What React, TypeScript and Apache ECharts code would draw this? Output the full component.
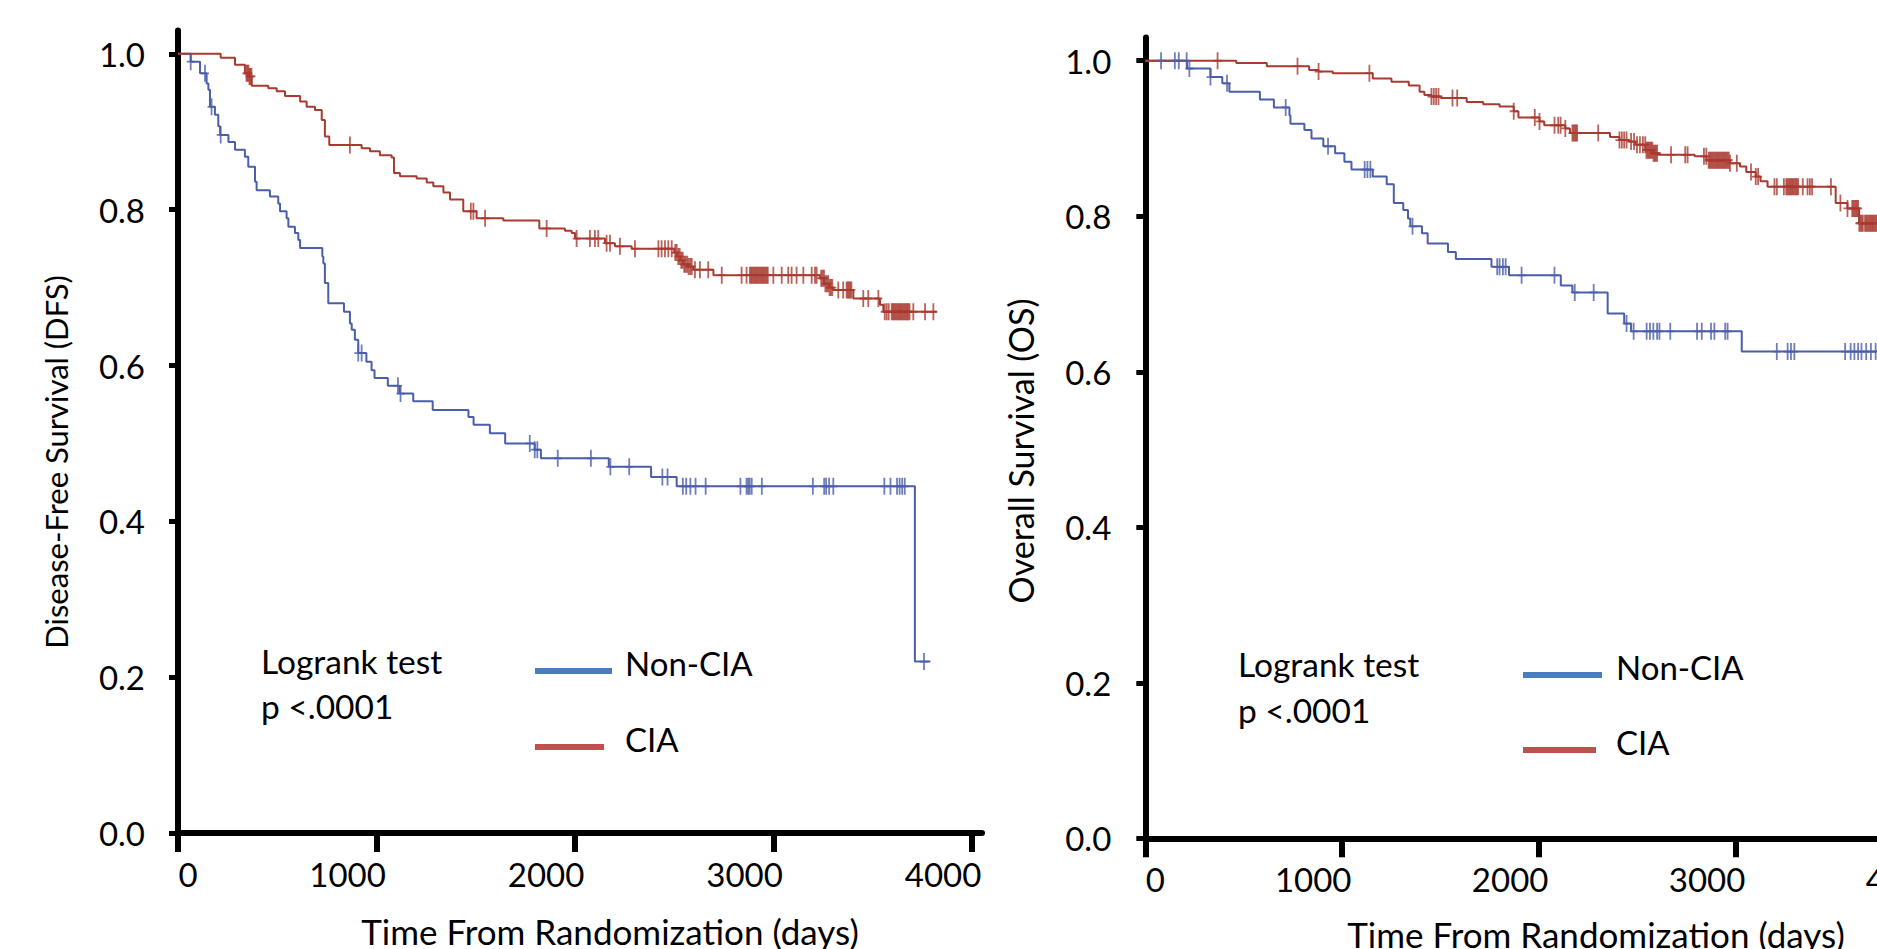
import React, { useEffect, useRef } from 'react';
import * as echarts from 'echarts';

// ---------- data ----------
const seriesNames = ['Non-CIA', 'CIA'];
const yTitles = ['Disease-Free Survival (DFS)', 'Overall Survival (OS)'];
const xTitle = 'Time From Randomization (days)';
const testLines = ['Logrank test', 'p <.0001'];
const xTickValues = [0, 1000, 2000, 3000, 4000];

// Disease-free survival, Non-CIA: [day, survival]
const dfsNonCIA: number[][] = [
  [0, 1], [64, 0.990], [111, 0.975], [144, 0.962], [153, 0.954], [161, 0.932], [186, 0.922],
  [203, 0.907], [212, 0.896], [254, 0.887], [287, 0.877], [337, 0.868], [354, 0.855],
  [388, 0.836], [396, 0.825], [463, 0.817], [505, 0.808], [514, 0.798], [547, 0.789],
  [556, 0.778], [589, 0.770], [606, 0.761], [615, 0.751], [727, 0.740], [732, 0.731],
  [740, 0.706], [757, 0.680], [836, 0.669], [866, 0.654], [875, 0.646], [891, 0.633],
  [908, 0.616], [949, 0.605], [975, 0.594], [990, 0.584], [1057, 0.574], [1116, 0.564],
  [1185, 0.554], [1283, 0.543], [1463, 0.534], [1489, 0.524], [1571, 0.513], [1648, 0.500],
  [1797, 0.492], [1828, 0.481], [2170, 0.470], [2383, 0.457], [2512, 0.445], [3712, 0.220],
  [3790, 0.220],
];
const dfsNonCIACensor: number[] = [
  64, 136, 169, 215, 908, 925, 1108, 1121, 1772, 1797, 1810, 1913, 2080, 2178, 2273, 2440,
  2466, 2543, 2560, 2581, 2607, 2658, 2833, 2864, 2872, 2880, 2890, 2941, 3198, 3255, 3265,
  3280, 3301, 3558, 3589, 3622, 3635, 3648, 3661, 3758,
];
// Disease-free survival, CIA
const dfsCIA: number[][] = [
  [0, 1], [215, 0.995], [287, 0.986], [337, 0.975], [358, 0.971], [371, 0.959], [455, 0.956],
  [497, 0.952], [539, 0.946], [615, 0.939], [648, 0.932], [690, 0.928], [724, 0.915],
  [740, 0.894], [762, 0.883], [925, 0.879], [967, 0.875], [1017, 0.870], [1076, 0.867],
  [1088, 0.847], [1118, 0.843], [1202, 0.840], [1253, 0.835], [1286, 0.830], [1337, 0.822],
  [1370, 0.813], [1437, 0.798], [1504, 0.789], [1639, 0.786], [1820, 0.776], [1949, 0.773],
  [1983, 0.770], [2000, 0.763], [2151, 0.757], [2201, 0.753], [2285, 0.750], [2500, 0.745],
  [2515, 0.740], [2530, 0.735], [2545, 0.730], [2570, 0.727], [2596, 0.723], [2697, 0.716],
  [3234, 0.712], [3255, 0.705], [3280, 0.700], [3300, 0.697], [3402, 0.686], [3536, 0.678],
  [3553, 0.669], [3822, 0.669],
];
const dfsCIACensor: number[] = [
  345, 350, 355, 360, 365, 370, 866, 1475, 1488, 1547, 1857, 2008, 2075, 2100, 2117, 2159,
  2176, 2226, 2302, 2420, 2436, 2453, 2470, 2487,
  2505, 2512, 2520, 2527, 2535, 2542, 2550, 2557, 2565, 2572, 2580, 2588,
  2604, 2629, 2671, 2739, 2839, 2864,
  2881, 2887, 2893, 2899, 2905, 2911, 2917, 2923, 2929, 2935, 2941, 2947, 2953, 2959, 2965, 2971,
  2999, 3041, 3074, 3091, 3116, 3150, 3192, 3209, 3217,
  3240, 3247, 3254, 3261, 3268, 3275, 3282, 3289, 3296,
  3326, 3351, 3368, 3374, 3380, 3386, 3392, 3452, 3477, 3528, 3560, 3570, 3580,
  3595, 3601, 3607, 3613, 3619, 3625, 3631, 3637, 3643, 3649, 3655, 3661, 3667, 3673, 3679, 3685,
  3704, 3763, 3805,
];

// Overall survival, Non-CIA
const osNonCIA: number[][] = [
  [0, 1], [212, 0.990], [331, 0.979], [391, 0.971], [427, 0.960], [582, 0.950], [653, 0.940],
  [732, 0.930], [737, 0.919], [808, 0.911], [844, 0.900], [904, 0.890], [964, 0.881],
  [1011, 0.870], [1047, 0.860], [1155, 0.851], [1226, 0.841], [1262, 0.817], [1310, 0.808],
  [1334, 0.797], [1346, 0.787], [1405, 0.778], [1434, 0.765], [1537, 0.754], [1577, 0.745],
  [1758, 0.735], [1847, 0.724], [2110, 0.711], [2169, 0.702], [2348, 0.675], [2432, 0.662],
  [2467, 0.652], [3029, 0.626], [3760, 0.626],
];
const osNonCIACensor: number[] = [
  80, 150, 170, 210, 224, 331, 415, 713, 928, 1114, 1128, 1143, 1357, 1787, 1799, 1816, 1830,
  1911, 2078, 2181, 2277, 2444, 2480, 2546, 2563, 2580, 2599, 2611, 2666, 2802, 2826, 2873,
  2890, 2945, 2957, 3207, 3262, 3279, 3296, 3554, 3582, 3601, 3620, 3637, 3661, 3685, 3709,
];
// Overall survival, CIA
const osCIA: number[][] = [
  [0, 1], [462, 0.997], [617, 0.993], [832, 0.988], [880, 0.986], [952, 0.984], [1155, 0.977],
  [1250, 0.973], [1338, 0.968], [1393, 0.960], [1417, 0.956], [1453, 0.954], [1501, 0.952],
  [1632, 0.947], [1716, 0.944], [1799, 0.941], [1871, 0.935], [1895, 0.927], [2002, 0.922],
  [2026, 0.917], [2133, 0.913], [2157, 0.907], [2360, 0.902], [2408, 0.898], [2456, 0.896],
  [2490, 0.892], [2540, 0.885], [2580, 0.881], [2600, 0.879], [2790, 0.877], [2850, 0.872],
  [2969, 0.868], [3020, 0.864], [3052, 0.857], [3100, 0.851], [3124, 0.845], [3160, 0.838],
  [3506, 0.817], [3566, 0.810], [3625, 0.791], [3760, 0.791],
];
const osCIACensor: number[] = [
  367, 773, 880, 1138, 1453, 1465, 1477, 1489, 1560, 1584, 1871, 1978, 2002, 2078, 2097, 2109,
  2133, 2169, 2175, 2181, 2187, 2193, 2300, 2408, 2420, 2432, 2444, 2467, 2482, 2497, 2512, 2527,
  2539, 2545, 2551, 2557, 2563, 2569, 2575, 2581, 2587, 2593, 2599, 2670, 2742, 2754,
  2837, 2849, 2861, 2867, 2873, 2879, 2885, 2891, 2897, 2903, 2909, 2915, 2921, 2927, 2933,
  2939, 2945, 2951, 2957, 2963, 2969, 3004, 3076, 3100, 3112, 3195, 3207,
  3243, 3255, 3261, 3267, 3273, 3279, 3285, 3291, 3297, 3303, 3309, 3315,
  3339, 3363, 3375, 3386, 3482, 3530, 3566,
  3590, 3596, 3602, 3608, 3614, 3620, 3626, 3632, 3638, 3644,
  3655, 3661, 3667, 3673, 3679, 3685, 3691, 3697, 3703, 3709, 3715,
];

// ---------- styling ----------
const FONT = 'Lato';
const CURVE_BLUE = '#4b5ea9';
const CURVE_RED = '#a93a2f';
const LEG_BLUE = '#4a7ebb';
const LEG_RED = '#c0504d';
const PLUS = 'path://M3.1,0L4.9,0L4.9,7.6L8,7.6L8,9.4L4.9,9.4L4.9,17L3.1,17L3.1,9.4L0,9.4L0,7.6L3.1,7.6Z';
const TICK_FS = 33;

function survAt(curve: number[][], t: number): number {
  let s = curve[0][1];
  for (const p of curve) {
    if (p[0] <= t) s = p[1];
    else break;
  }
  return s;
}

export default function App() {
  const ref = useRef<HTMLDivElement>(null);
  useEffect(() => {
    if (!ref.current) return;
    const chart = echarts.init(ref.current, undefined, { renderer: 'svg' });

    const xAxisBase = (gridIndex: number) => ({
      type: 'value',
      gridIndex,
      min: 0,
      max: 4050,
      interval: 1000,
      axisLine: { show: true, onZero: false, lineStyle: { color: '#000', width: 6 } },
      axisTick: { show: true, length: 19, lineStyle: { color: '#000', width: 6 } },
      splitLine: { show: false },
      axisLabel: {
        margin: 24,
        color: '#000',
        fontFamily: FONT,
        fontSize: TICK_FS,
        formatter: (v: number) => (xTickValues.indexOf(v) === 0 ? '{z|' + v + '}' : '{n|' + v + '}'),
        rich: {
          z: { fontFamily: FONT, fontSize: TICK_FS, color: '#000', padding: [0, 0, 0, 20] },
          n: { fontFamily: FONT, fontSize: TICK_FS, color: '#000', padding: [0, 58, 0, 0] },
        },
      },
    });
    const yAxisBase = (gridIndex: number, margin: number) => ({
      type: 'value',
      gridIndex,
      min: 0,
      max: 1.03,
      interval: 0.2,
      axisLine: { show: true, lineStyle: { color: '#000', width: 6 } },
      axisTick: { show: true, length: 9, lineStyle: { color: '#000', width: 5 } },
      splitLine: { show: false },
      axisLabel: {
        margin,
        color: '#000',
        fontFamily: FONT,
        fontSize: TICK_FS,
        formatter: (v: number) => v.toFixed(1),
      },
    });

    const lineSeries = (data: number[][], color: string, idx: number, name: string) => ({
      type: 'line',
      name,
      xAxisIndex: idx,
      yAxisIndex: idx,
      data,
      step: 'end',
      showSymbol: false,
      symbol: 'none',
      lineStyle: { color, width: 2 },
      z: 3,
    });
    const censorSeries = (curve: number[][], times: number[], color: string, idx: number, name: string) => ({
      type: 'scatter',
      name,
      xAxisIndex: idx,
      yAxisIndex: idx,
      data: times.map((t) => [t, survAt(curve, t)]),
      symbol: PLUS,
      symbolSize: [8, 17],
      itemStyle: { color },
      z: 4,
    });

    const txt = (text: string, x: number, y: number, size: number, extra: any = {}) => ({
      type: 'text',
      x,
      y,
      ...extra,
      style: { text, fontFamily: FONT, fontSize: size, fill: '#000', align: 'left', verticalAlign: 'middle', ...(extra.style || {}) },
    });
    const seg = (x1: number, x2: number, y: number, color: string) => ({
      type: 'line',
      shape: { x1, y1: y, x2, y2: y },
      style: { stroke: color, lineWidth: 6 },
    });

    chart.setOption({
      animation: false,
      backgroundColor: '#fff',
      grid: [
        { left: 178, top: 30.5, width: 804, height: 802.5, outerBoundsMode: 'none' },
        { left: 1145.3, top: 37.4, width: 797.5, height: 800.9, outerBoundsMode: 'none' },
      ],
      xAxis: [xAxisBase(0), xAxisBase(1)],
      yAxis: [yAxisBase(0, 33), yAxisBase(1, 34)],
      series: [
        lineSeries(dfsNonCIA, CURVE_BLUE, 0, seriesNames[0]),
        lineSeries(dfsCIA, CURVE_RED, 0, seriesNames[1]),
        censorSeries(dfsNonCIA, dfsNonCIACensor, CURVE_BLUE, 0, seriesNames[0] + ' censored'),
        censorSeries(dfsCIA, dfsCIACensor, CURVE_RED, 0, seriesNames[1] + ' censored'),
        lineSeries(osNonCIA, CURVE_BLUE, 1, seriesNames[0]),
        lineSeries(osCIA, CURVE_RED, 1, seriesNames[1]),
        censorSeries(osNonCIA, osNonCIACensor, CURVE_BLUE, 1, seriesNames[0] + ' censored'),
        censorSeries(osCIA, osCIACensor, CURVE_RED, 1, seriesNames[1] + ' censored'),
      ],
      graphic: [
        // axis titles
        txt(yTitles[0], 56, 462, 31, { rotation: Math.PI / 2, style: { align: 'center' } }),
        txt(yTitles[1], 1020, 451, 34, { rotation: Math.PI / 2, style: { align: 'center' } }),
        txt(xTitle, 610, 931, 35, { style: { align: 'center' } }),
        txt(xTitle, 1596, 934, 35, { style: { align: 'center' } }),
        // left panel annotation + legend
        txt(testLines[0], 261, 661, 33.5),
        txt(testLines[1], 261, 706, 33.5),
        seg(535, 612, 671, LEG_BLUE),
        seg(535, 604, 747, LEG_RED),
        txt(seriesNames[0], 625, 663, 33),
        txt(seriesNames[1], 625, 739, 33),
        // right panel annotation + legend
        txt(testLines[0], 1238, 664, 33.5),
        txt(testLines[1], 1238, 710, 33.5),
        seg(1523, 1602, 675, LEG_BLUE),
        seg(1523, 1596, 750, LEG_RED),
        txt(seriesNames[0], 1616, 667, 33),
        txt(seriesNames[1], 1616, 742, 33),
      ],
    });
    return () => chart.dispose();
  }, []);
  return (
    <div
      ref={ref}
      style={{ position: 'absolute', left: 0, top: 0, width: 1877, height: 949, overflow: 'hidden', background: '#fff' }}
    />
  );
}
